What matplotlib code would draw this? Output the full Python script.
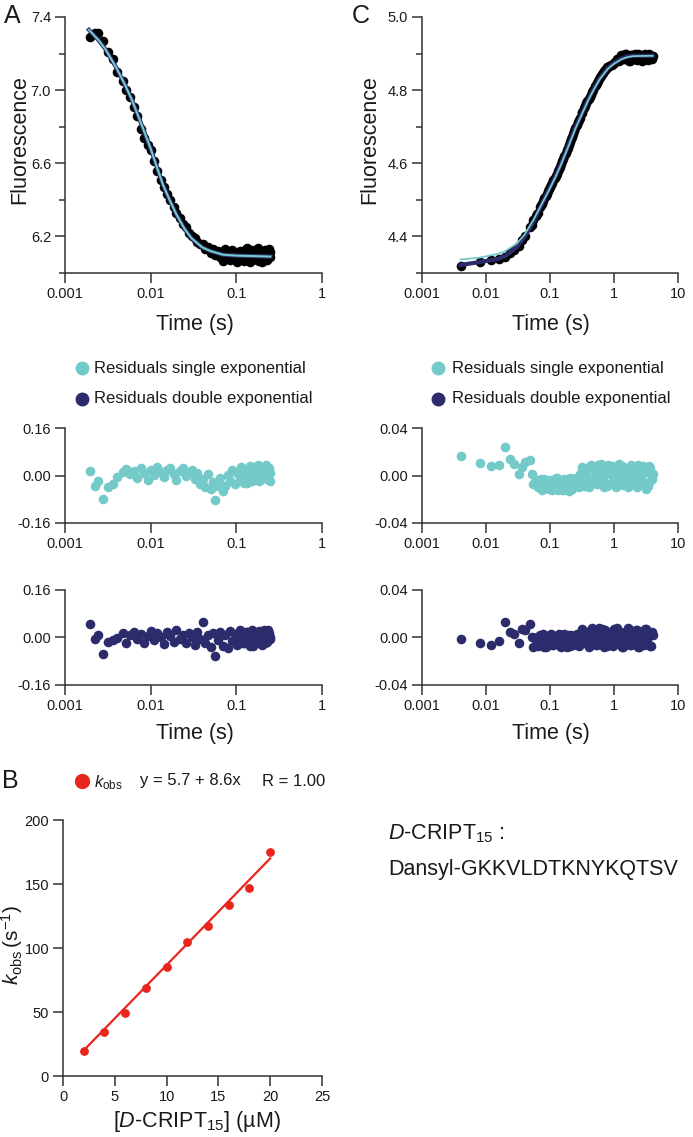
import matplotlib
matplotlib.use("Agg")
import matplotlib.pyplot as plt
from matplotlib.lines import Line2D
from matplotlib.ticker import FixedLocator, NullFormatter, FixedFormatter

plt.rcParams['font.family'] = ['Liberation Sans', 'DejaVu Sans']
plt.rcParams['mathtext.fontset'] = 'custom'
plt.rcParams['mathtext.rm'] = 'Liberation Sans'
plt.rcParams['mathtext.it'] = 'Liberation Sans:italic'
plt.rcParams['mathtext.bf'] = 'Liberation Sans:bold'

# ---------------- data: panel A (fast decay) ----------------
time_A = [0.00195, 0.00223, 0.00245, 0.0028, 0.0032, 0.0036, 0.0041, 0.0047, 0.0052, 0.0058,
          0.0064, 0.0070, 0.0077, 0.0084, 0.0092, 0.0100, 0.0110, 0.0120, 0.0131, 0.0143,
          0.0156, 0.0170, 0.0185, 0.0200, 0.0218, 0.0236, 0.0256, 0.0278, 0.0300, 0.0325,
          0.0350, 0.0378, 0.0405, 0.0435, 0.0465, 0.0500, 0.0535, 0.0570, 0.061, 0.065,
          0.069, 0.074, 0.079, 0.084, 0.090, 0.096, 0.102, 0.109, 0.116, 0.123,
          0.130, 0.138, 0.146, 0.154, 0.163, 0.172, 0.181, 0.190, 0.200, 0.210,
          0.220, 0.230, 0.240, 0.250,
          0.105, 0.112, 0.119, 0.126, 0.134, 0.142, 0.150, 0.158, 0.167, 0.176,
          0.185, 0.195, 0.205, 0.215, 0.225, 0.235, 0.245]
fluor_A = [7.29, 7.31, 7.31, 7.27, 7.21, 7.17, 7.10, 7.05, 7.00, 6.96,
           6.91, 6.86, 6.79, 6.74, 6.70, 6.67, 6.61, 6.56, 6.51, 6.47,
           6.43, 6.40, 6.36, 6.33, 6.30, 6.27, 6.25, 6.22, 6.20, 6.19,
           6.17, 6.16, 6.16, 6.13, 6.14, 6.11, 6.13, 6.10, 6.12, 6.09,
           6.065, 6.13, 6.10, 6.07, 6.125, 6.085, 6.06, 6.12, 6.095, 6.065,
           6.13, 6.08, 6.06, 6.125, 6.10, 6.07, 6.135, 6.085, 6.06, 6.12,
           6.095, 6.07, 6.13, 6.085,
           6.10, 6.075, 6.115, 6.09, 6.135, 6.07, 6.105, 6.12, 6.08, 6.10,
           6.065, 6.115, 6.09, 6.125, 6.075, 6.105, 6.115]
resid_single_A = [0.014, -0.034, -0.017, -0.079, -0.040, -0.028, -0.006, 0.011, 0.022, 0.004,
                  0.014, -0.008, 0.026, 0.010, -0.014, 0.020, 0.002, 0.028, 0.012, -0.004,
                  0.018, 0.024, 0.006, -0.016, 0.016, 0.026, -0.002, 0.010, 0.020, -0.012,
                  0.008, -0.030, -0.012, -0.040, 0.006, -0.046, -0.022, -0.082, -0.034, -0.010,
                  -0.052, -0.036, 0.002, -0.018, 0.020, -0.030, 0.008, -0.014, 0.026, -0.024,
                  0.014, -0.004, 0.032, -0.020, 0.018, 0.000, 0.036, -0.016, 0.022, 0.004,
                  0.034, -0.012, 0.024, 0.008,
                  0.008, 0.028, -0.008, 0.018, -0.026, 0.004, 0.030, -0.010, 0.012, 0.026,
                  -0.020, 0.008, 0.020, -0.004, 0.030, 0.014, -0.018]
resid_double_A = [0.047, -0.004, 0.007, -0.055, -0.016, -0.010, -0.002, 0.015, -0.018, 0.008,
                  0.020, -0.006, 0.012, -0.020, 0.004, 0.022, -0.010, 0.014, 0.000, -0.022,
                  0.018, 0.006, -0.014, 0.024, -0.004, 0.010, -0.018, 0.016, 0.002, -0.024,
                  0.018, -0.006, 0.052, -0.020, 0.008, -0.032, 0.014, -0.061, -0.010, 0.020,
                  -0.028, 0.008, -0.036, 0.022, -0.012, 0.012, -0.026, 0.026, 0.000, -0.018,
                  0.018, -0.008, -0.030, 0.024, 0.006, -0.016, 0.020, -0.004, -0.024, 0.026,
                  0.010, -0.014, 0.016, 0.000,
                  -0.004, 0.014, -0.020, 0.004, 0.020, -0.010, 0.010, -0.028, 0.016, -0.002,
                  0.022, -0.012, 0.006, -0.018, 0.012, 0.024, -0.006]
fit_time_A = [0.0019, 0.0025, 0.003, 0.004, 0.005, 0.006, 0.007, 0.008, 0.010, 0.012,
              0.014, 0.017, 0.020, 0.025, 0.030, 0.040, 0.050, 0.070, 0.100, 0.250]
fit_double_A = [7.33, 7.27, 7.22, 7.12, 7.03, 6.95, 6.87, 6.80, 6.68, 6.57,
                6.48, 6.39, 6.32, 6.24, 6.19, 6.14, 6.12, 6.10, 6.095, 6.09]
fit_single_A = [7.33, 7.27, 7.22, 7.12, 7.03, 6.95, 6.87, 6.80, 6.68, 6.57,
                6.48, 6.39, 6.32, 6.24, 6.19, 6.14, 6.12, 6.10, 6.095, 6.09]

# ---------------- data: panel C (slow rise) ----------------
time_C = [0.004, 0.008, 0.012, 0.016, 0.0198, 0.0237, 0.0274, 0.0327, 0.036, 0.0405,
          0.0484, 0.052, 0.055, 0.060, 0.065, 0.070, 0.076, 0.082, 0.089, 0.096,
          0.104, 0.113, 0.122, 0.132, 0.143, 0.155, 0.168, 0.182, 0.197, 0.213,
          0.231, 0.250, 0.270, 0.290, 0.315, 0.340, 0.370, 0.400, 0.430, 0.465,
          0.500, 0.540, 0.580, 0.630, 0.680, 0.730, 0.790, 0.850, 0.920, 1.00,
          1.08, 1.16, 1.25, 1.35, 1.45, 1.56, 1.68, 1.80, 1.93, 2.07,
          2.22, 2.38, 2.55, 2.73, 2.92, 3.12, 3.33, 3.55, 3.80, 4.00,
          0.063, 0.073, 0.079, 0.086, 0.093, 0.100, 0.108, 0.118, 0.127, 0.137,
          0.149, 0.161, 0.175, 0.190, 0.205, 0.222, 0.240, 0.260, 0.280,
          0.32, 0.355, 0.385, 0.415, 0.45, 0.52, 0.56, 0.61, 0.655, 0.705,
          0.76, 0.82, 0.885, 0.96, 1.04, 1.12, 1.20, 1.30, 1.40, 1.50,
          1.62, 1.74, 1.86, 2.00, 2.15, 2.30, 2.46, 2.64, 2.82, 3.02,
          3.22, 3.44, 3.68, 3.90]
fluor_C = [4.319, 4.330, 4.335, 4.338, 4.345, 4.355, 4.362, 4.375, 4.390, 4.400,
           4.425, 4.432, 4.444, 4.455, 4.465, 4.480, 4.490, 4.505, 4.517, 4.530,
           4.540, 4.553, 4.566, 4.578, 4.590, 4.606, 4.620, 4.636, 4.650, 4.666,
           4.681, 4.697, 4.712, 4.723, 4.738, 4.751, 4.764, 4.776, 4.787, 4.800,
           4.810, 4.820, 4.830, 4.840, 4.848, 4.855, 4.862, 4.866, 4.870, 4.874,
           4.879, 4.884, 4.890, 4.893, 4.885, 4.898, 4.889, 4.880, 4.897, 4.892,
           4.884, 4.899, 4.888, 4.881, 4.897, 4.891, 4.885, 4.899, 4.888, 4.893,
           4.462, 4.485, 4.497, 4.510, 4.523, 4.535, 4.547, 4.560, 4.572, 4.584,
           4.598, 4.612, 4.628, 4.643, 4.658, 4.673, 4.689, 4.704, 4.717,
           4.740, 4.757, 4.770, 4.782, 4.794, 4.815, 4.825, 4.835, 4.844, 4.852,
           4.858, 4.864, 4.868, 4.872, 4.877, 4.886, 4.879, 4.896, 4.884, 4.899,
           4.887, 4.880, 4.895, 4.886, 4.899, 4.882, 4.891, 4.897, 4.884, 4.899,
           4.889, 4.882, 4.896, 4.886]
resid_single_C = [0.0164, 0.0108, 0.0079, 0.0091, 0.0236, 0.0136, 0.0100, 0.0014, 0.0070, 0.0113,
                  0.0134, 0.0014, -0.0070, -0.004, -0.010, -0.007, -0.012, -0.003, -0.008, -0.011,
                  -0.005, -0.009, -0.002, -0.012, -0.006, -0.010, -0.003, -0.008, -0.013, -0.005,
                  -0.009, -0.002, -0.008, 0.001, 0.007, -0.004, 0.004, -0.010, 0.009, -0.002,
                  0.005, -0.007, 0.002, 0.010, -0.005, 0.006, -0.009, 0.003, 0.008, -0.003,
                  -0.010, 0.005, 0.000, 0.008, -0.006, 0.003, -0.010, 0.007, -0.002, 0.004,
                  -0.008, 0.009, 0.000, -0.006, 0.006, -0.011, 0.003, 0.008, -0.004, 0.001,
                  -0.008, -0.003, -0.011, -0.006, -0.009, -0.004, -0.012, -0.007, -0.002, -0.010,
                  -0.006, -0.012, -0.004, -0.009, -0.002, -0.011, -0.006, -0.003, -0.010,
                  0.004, -0.009, 0.000, 0.008, -0.006, 0.002, 0.009, -0.004, 0.004, -0.010,
                  0.001, 0.009, -0.006, 0.000, 0.007, -0.006, 0.010, -0.002, -0.008, 0.006,
                  -0.004, 0.001, 0.009, -0.007, 0.002, -0.010, 0.005, -0.002, 0.008, -0.006,
                  0.004, -0.009, 0.006, -0.003]
resid_double_C = [-0.0010, -0.0050, -0.0060, -0.0030, 0.0134, 0.0049, 0.0030, -0.0043, 0.0072, 0.0060,
                  0.0110, 0.0000, -0.0080, -0.002, -0.007, 0.002, -0.004, -0.008, 0.001, -0.005,
                  0.003, -0.006, -0.002, 0.002, -0.007, -0.003, 0.003, -0.008, -0.001, 0.002,
                  -0.006, -0.003, -0.006, 0.002, 0.007, -0.003, 0.004, -0.008, 0.006, -0.001,
                  0.003, -0.006, 0.008, -0.003, 0.001, 0.006, -0.007, 0.003, -0.002, 0.007,
                  -0.005, 0.000, 0.005, -0.008, 0.004, -0.002, 0.008, -0.006, 0.002, -0.004,
                  0.006, -0.008, 0.003, 0.000, -0.006, 0.007, -0.003, 0.004, -0.007, 0.002,
                  0.000, -0.005, 0.003, -0.008, -0.002, 0.002, -0.006, 0.000, -0.004, 0.003,
                  -0.008, -0.001, -0.005, 0.002, -0.007, 0.001, -0.004, 0.003, -0.007,
                  0.001, -0.005, 0.005, -0.002, 0.008, -0.006, 0.002, -0.003, 0.007, -0.008,
                  0.004, -0.001, 0.005, -0.007, 0.001, 0.008, -0.004, 0.003, -0.008, 0.005,
                  -0.002, 0.007, -0.006, 0.002, -0.004, 0.006, -0.008, 0.004, -0.001, 0.007,
                  -0.005, 0.001, -0.007, 0.005]
fit_time_C = [0.004, 0.008, 0.015, 0.020, 0.030, 0.040, 0.055, 0.070, 0.090, 0.120,
              0.150, 0.200, 0.250, 0.300, 0.400, 0.500, 0.600, 0.800, 1.00, 1.30,
              1.60, 2.00, 4.00]
fit_double_C = [4.322, 4.330, 4.338, 4.346, 4.370, 4.398, 4.440, 4.478, 4.518, 4.562,
                4.600, 4.655, 4.698, 4.728, 4.776, 4.808, 4.832, 4.860, 4.874, 4.886,
                4.892, 4.894, 4.894]
fit_single_C = [4.337, 4.342, 4.352, 4.360, 4.380, 4.405, 4.445, 4.480, 4.516, 4.560,
                4.598, 4.652, 4.695, 4.726, 4.774, 4.806, 4.830, 4.858, 4.872, 4.884,
                4.890, 4.893, 4.894]

# ---------------- data: panel B (kobs vs concentration) ----------------
conc_B = [2, 4, 6, 8, 10, 12, 14, 16, 18, 20]
kobs_B = [19.5, 34.4, 49.5, 69, 85.4, 105, 117.4, 133.6, 147, 175]
fit_conc_B = [2, 20]
fit_kobs_B = [20, 170]

# ---------------- styling ----------------
W, H = 693, 1137
CYAN = '#74c9c9'
NAVY = '#2c2c6c'
RED = '#e8261d'
AX = '#333333'
TXT = '#1a1a1a'
TICK_FS = 10.5
LAB_FS = 15.5
LEG_FS = 12
DOT = 48

fig = plt.figure(figsize=(W / 100, H / 100), dpi=100)


def add_ax(l, t, r, b):
    return fig.add_axes([l / W, 1 - b / H, (r - l) / W, (b - t) / H])


def ftext(x, y, s, **kw):
    kw.setdefault('color', TXT)
    return fig.text(x / W, 1 - y / H, s, **kw)


def fmarker(x, y, color, ms):
    fig.add_artist(Line2D([x / W], [1 - y / H], marker='o', color=color, ms=ms,
                          mec=color, ls='none', transform=fig.transFigure))


def style(ax, yticks_major, ylabels, yminor, xlog=True, xticks=None, xlabels=None):
    for s in ('top', 'right'):
        ax.spines[s].set_visible(False)
    for s in ('left', 'bottom'):
        ax.spines[s].set_color(AX)
        ax.spines[s].set_linewidth(1.1)
    ax.yaxis.set_major_locator(FixedLocator(yticks_major))
    ax.yaxis.set_major_formatter(FixedFormatter(ylabels))
    ax.yaxis.set_minor_locator(FixedLocator(yminor))
    ax.yaxis.set_minor_formatter(NullFormatter())
    if xlog:
        ax.set_xscale('log')
    ax.xaxis.set_major_locator(FixedLocator(xticks))
    ax.xaxis.set_major_formatter(FixedFormatter(xlabels))
    ax.xaxis.set_minor_locator(FixedLocator([]))
    ax.tick_params(axis='both', which='major', direction='out', length=7, width=1.1,
                   color=AX, labelsize=TICK_FS, labelcolor=TXT, pad=3)
    ax.tick_params(axis='both', which='minor', direction='out', length=4.5, width=1.1, color=AX)
    ax.patch.set_alpha(0)


# ---------------- Panel A main ----------------
axA = add_ax(65, 17, 322, 273)
axA.scatter(time_A, fluor_A, s=DOT, color='black', zorder=2, linewidths=0)
axA.plot(fit_time_A, fit_double_A, color=NAVY, lw=3.0, zorder=3)
axA.plot(fit_time_A, fit_single_A, color=CYAN, lw=1.5, zorder=4)
axA.set_xlim(0.001, 1)
axA.set_ylim(6.0, 7.4)
style(axA, [6.2, 6.6, 7.0, 7.4], ['6.2', '6.6', '7.0', '7.4'], [6.0, 6.4, 6.8, 7.2],
      xticks=[0.001, 0.01, 0.1, 1], xlabels=['0.001', '0.01', '0.1', '1'])
ftext(20, 140, 'Fluorescence', fontsize=LAB_FS, rotation=90, ha='center', va='center')
ftext(195, 325, 'Time (s)', fontsize=LAB_FS, ha='center', va='center')
ftext(12, 16, 'A', fontsize=18, ha='center', va='center')

# ---------------- Panel C main ----------------
axC = add_ax(422, 17, 678, 273)
axC.scatter(time_C, fluor_C, s=DOT, color='black', zorder=2, linewidths=0)
axC.plot(fit_time_C, fit_double_C, color=NAVY, lw=3.0, zorder=3)
axC.plot(fit_time_C, fit_single_C, color=CYAN, lw=1.3, zorder=4)
axC.set_xlim(0.001, 10)
axC.set_ylim(4.3, 5.0)
style(axC, [4.4, 4.6, 4.8, 5.0], ['4.4', '4.6', '4.8', '5.0'], [4.3, 4.5, 4.7, 4.9],
      xticks=[0.001, 0.01, 0.1, 1, 10], xlabels=['0.001', '0.01', '0.1', '1', '10'])
ftext(370, 140, 'Fluorescence', fontsize=LAB_FS, rotation=90, ha='center', va='center')
ftext(551, 325, 'Time (s)', fontsize=LAB_FS, ha='center', va='center')
ftext(361, 16, 'C', fontsize=18, ha='center', va='center')

# ---------------- Residual legends ----------------
for lx, tx in ((82, 94), (438, 452)):
    fmarker(lx, 368, CYAN, 9)
    ftext(tx, 368, 'Residuals single exponential', fontsize=LEG_FS, ha='left', va='center')
    fmarker(lx, 399, NAVY, 9)
    ftext(tx, 399, 'Residuals double exponential', fontsize=LEG_FS, ha='left', va='center')

# ---------------- Residual panels A ----------------
axRA1 = add_ax(65, 428, 322, 523)
axRA1.scatter(time_A, resid_single_A, s=DOT, color=CYAN, linewidths=0)
axRA1.set_xlim(0.001, 1)
axRA1.set_ylim(-0.16, 0.16)
style(axRA1, [-0.16, 0.0, 0.16], ['-0.16', '0.00', '0.16'], [],
      xticks=[0.001, 0.01, 0.1, 1], xlabels=['0.001', '0.01', '0.1', '1'])

axRA2 = add_ax(65, 590, 322, 685)
axRA2.scatter(time_A, resid_double_A, s=DOT, color=NAVY, linewidths=0)
axRA2.set_xlim(0.001, 1)
axRA2.set_ylim(-0.16, 0.16)
style(axRA2, [-0.16, 0.0, 0.16], ['-0.16', '0.00', '0.16'], [],
      xticks=[0.001, 0.01, 0.1, 1], xlabels=['0.001', '0.01', '0.1', '1'])
ftext(195, 734, 'Time (s)', fontsize=LAB_FS, ha='center', va='center')

# ---------------- Residual panels C ----------------
axRC1 = add_ax(422, 428, 678, 523)
axRC1.scatter(time_C, resid_single_C, s=DOT, color=CYAN, linewidths=0)
axRC1.set_xlim(0.001, 10)
axRC1.set_ylim(-0.04, 0.04)
style(axRC1, [-0.04, 0.0, 0.04], ['-0.04', '0.00', '0.04'], [],
      xticks=[0.001, 0.01, 0.1, 1, 10], xlabels=['0.001', '0.01', '0.1', '1', '10'])

axRC2 = add_ax(422, 590, 678, 685)
axRC2.scatter(time_C, resid_double_C, s=DOT, color=NAVY, linewidths=0)
axRC2.set_xlim(0.001, 10)
axRC2.set_ylim(-0.04, 0.04)
style(axRC2, [-0.04, 0.0, 0.04], ['-0.04', '0.00', '0.04'], [],
      xticks=[0.001, 0.01, 0.1, 1, 10], xlabels=['0.001', '0.01', '0.1', '1', '10'])
ftext(551, 734, 'Time (s)', fontsize=LAB_FS, ha='center', va='center')

# ---------------- Panel B ----------------
axB = add_ax(63, 820, 322, 1076)
axB.scatter(conc_B, kobs_B, s=40, color=RED, linewidths=0, zorder=3)
axB.plot(fit_conc_B, fit_kobs_B, color=RED, lw=1.6, zorder=2)
axB.set_xlim(0, 25)
axB.set_ylim(0, 200)
style(axB, [0, 50, 100, 150, 200], ['0', '50', '100', '150', '200'], [], xlog=False,
      xticks=[0, 5, 10, 15, 20, 25], xlabels=['0', '5', '10', '15', '20', '25'])
ftext(12, 945, r'$k_{\mathrm{obs}}\,(\mathrm{s}^{\mathrm{-1}})$', fontsize=15,
      rotation=90, ha='center', va='center')
ftext(197, 1121, r'[$\mathit{D}$-CRIPT$_{\mathrm{15}}$] (µM)', fontsize=LAB_FS,
      ha='center', va='center')
ftext(10, 781, 'B', fontsize=18, ha='center', va='center')
fmarker(82, 781, RED, 10)
ftext(94, 783, r'$k_{\mathrm{obs}}$', fontsize=LEG_FS, ha='left', va='center')
ftext(140, 781, 'y = 5.7 + 8.6x', fontsize=LEG_FS, ha='left', va='center')
ftext(262, 781, 'R = 1.00', fontsize=LEG_FS, ha='left', va='center')

# ---------------- Peptide text ----------------
ftext(388, 834, r'$\mathit{D}$-CRIPT$_{\mathrm{15}}$ :', fontsize=15.5, ha='left', va='center')
ftext(388, 869, 'Dansyl-GKKVLDTKNYKQTSV', fontsize=15.5, ha='left', va='center')

fig.savefig('out.png', dpi=100)
